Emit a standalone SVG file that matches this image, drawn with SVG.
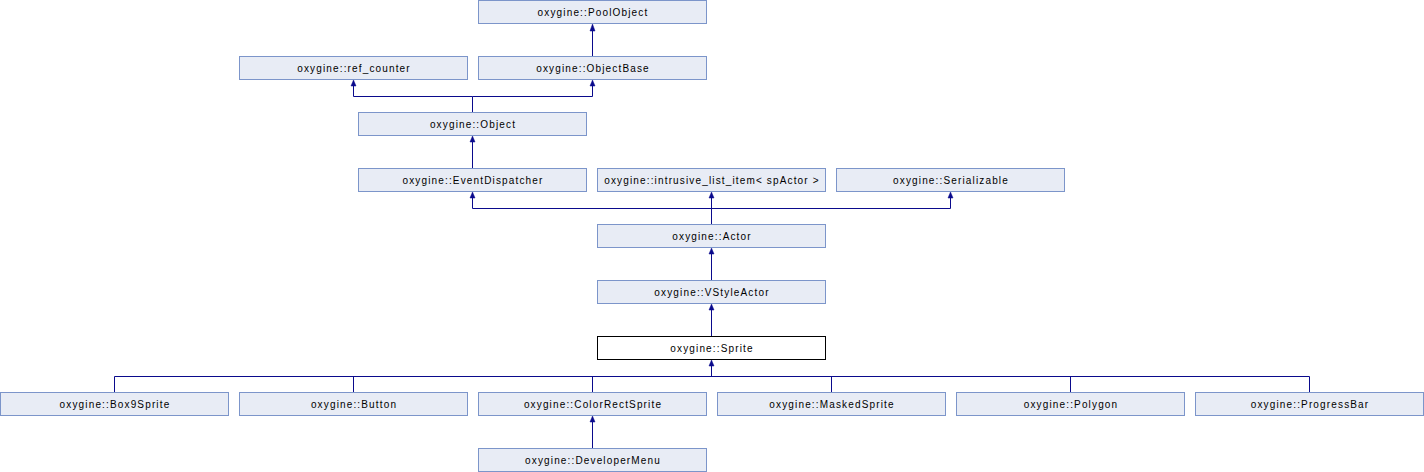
<svg xmlns="http://www.w3.org/2000/svg" width="1424" height="472" viewBox="0 0 1424 472">
<style>
.n rect{fill:#e8ecf5;stroke:#7c95ca;stroke-width:1}
.cur rect{fill:#ffffff;stroke:#000000;stroke-width:1}
text{font-family:"Liberation Sans",Arial,sans-serif;font-size:10px;letter-spacing:1.15px;fill:#000;text-anchor:middle}
.e path{fill:none;stroke:#0a0a8c;stroke-width:1}
.e polygon{fill:#0a0a8c;stroke:#0a0a8c;stroke-width:0.5}
</style>
<rect width="1424" height="472" fill="#ffffff"/>
<g class="e" id="edges">
<path d="M592.5,56 V30"/><polygon points="590,31 592.5,24 595,31"/>
<path d="M472.5,112 V96.5 H353.5 V86"/><polygon points="351,86 353.5,80 356,86"/>
<path d="M472.5,96.5 H592.5 V86"/><polygon points="590,86 592.5,80 595,86"/>
<path d="M472.5,168 V142"/><polygon points="470,142 472.5,136 475,142"/>
<path d="M711.5,224 V198"/><polygon points="709,198 711.5,192 714,198"/>
<path d="M711.5,208.5 H472.5 V198"/><polygon points="470,198 472.5,192 475,198"/>
<path d="M711.5,208.5 H950.5 V198"/><polygon points="948,198 950.5,192 953,198"/>
<path d="M711.5,280 V254"/><polygon points="709,254 711.5,248 714,254"/>
<path d="M711.5,336 V310"/><polygon points="709,310 711.5,304 714,310"/>
<path d="M711.5,376.5 V366"/><polygon points="709,366 711.5,360 714,366"/>
<path d="M114.5,392 V376.5 H1309.5 V392"/>
<path d="M353.5,392 V376.5"/><path d="M592.5,392 V376.5"/><path d="M831.5,392 V376.5"/><path d="M1070.5,392 V376.5"/>
<path d="M592.5,448 V422"/><polygon points="590,422 592.5,416 595,422"/>
</g>
<g class="n" id="PoolObject"><rect x="478.5" y="0.5" width="228" height="23"/><text x="593" y="15.5">oxygine::PoolObject</text></g>
<g class="n" id="ref_counter"><rect x="239.5" y="56.5" width="228" height="23"/><text x="354" y="71.5">oxygine::ref_counter</text></g>
<g class="n" id="ObjectBase"><rect x="478.5" y="56.5" width="228" height="23"/><text x="593" y="71.5">oxygine::ObjectBase</text></g>
<g class="n" id="Object"><rect x="358.5" y="112.5" width="228" height="23"/><text x="473" y="127.5">oxygine::Object</text></g>
<g class="n" id="EventDispatcher"><rect x="358.5" y="168.5" width="228" height="23"/><text x="473" y="183.5">oxygine::EventDispatcher</text></g>
<g class="n" id="intrusive_list_item"><rect x="597.5" y="168.5" width="228" height="23"/><text x="712" y="183.5">oxygine::intrusive_list_item&lt; spActor &gt;</text></g>
<g class="n" id="Serializable"><rect x="836.5" y="168.5" width="228" height="23"/><text x="951" y="183.5">oxygine::Serializable</text></g>
<g class="n" id="Actor"><rect x="597.5" y="224.5" width="228" height="23"/><text x="712" y="239.5">oxygine::Actor</text></g>
<g class="n" id="VStyleActor"><rect x="597.5" y="280.5" width="228" height="23"/><text x="712" y="295.5">oxygine::VStyleActor</text></g>
<g class="cur" id="Sprite"><rect x="597.5" y="336.5" width="228" height="23"/><text x="712" y="351.5">oxygine::Sprite</text></g>
<g class="n" id="Box9Sprite"><rect x="0.5" y="392.5" width="228" height="23"/><text x="115" y="407.5">oxygine::Box9Sprite</text></g>
<g class="n" id="Button"><rect x="239.5" y="392.5" width="228" height="23"/><text x="354" y="407.5">oxygine::Button</text></g>
<g class="n" id="ColorRectSprite"><rect x="478.5" y="392.5" width="228" height="23"/><text x="593" y="407.5">oxygine::ColorRectSprite</text></g>
<g class="n" id="MaskedSprite"><rect x="717.5" y="392.5" width="228" height="23"/><text x="832" y="407.5">oxygine::MaskedSprite</text></g>
<g class="n" id="Polygon"><rect x="956.5" y="392.5" width="228" height="23"/><text x="1071" y="407.5">oxygine::Polygon</text></g>
<g class="n" id="ProgressBar"><rect x="1195.5" y="392.5" width="228" height="23"/><text x="1310" y="407.5">oxygine::ProgressBar</text></g>
<g class="n" id="DeveloperMenu"><rect x="478.5" y="448.5" width="228" height="23"/><text x="593" y="463.5">oxygine::DeveloperMenu</text></g>
</svg>
